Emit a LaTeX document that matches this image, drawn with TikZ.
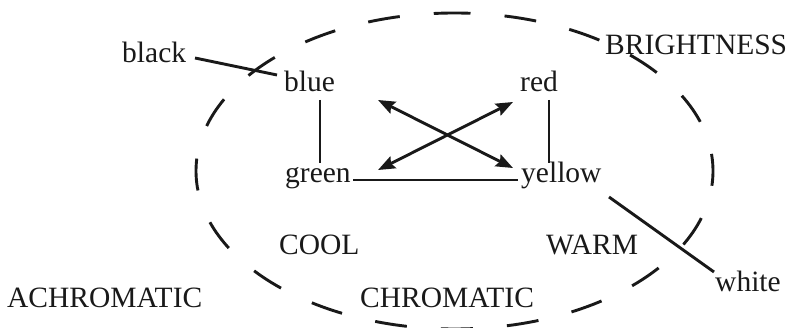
\documentclass[tikz,border=0pt]{standalone}
\usepackage{fontspec}
\setmainfont{Liberation Serif}
\usetikzlibrary{calc,arrows.meta}
\begin{document}
\begin{tikzpicture}[x=1pt,y=-1pt,
  lbl/.style={anchor=base west,inner sep=0pt,font=\fontsize{29.5}{34}\selectfont,text=black!90},
  conn/.style={line width=2.9pt,draw=black!90},
  dbl/.style={conn,{Stealth[length=17pt,width=13pt,inset=2.5pt]}-{Stealth[length=17pt,width=13pt,inset=2.5pt]}},
  ring/.style={line width=2.9pt,draw=black!90,dash pattern=on 32pt off 34.15pt,dash phase=16pt}]
\useasboundingbox (0,0) rectangle (790,328);
\node[lbl] (black) at (122,63) {black};
\node[lbl] (blue) at (284,92) {blue};
\node[lbl] (red) at (520,92) {red};
\node[lbl] (green) at (285,183) {green};
\node[lbl] (yellow) at (521,183) {yellow};
\node[lbl] (bright) at (605,55) {BRIGHTNESS};
\node[lbl] (cool) at (279,255) {COOL};
\node[lbl] (warm) at (546,255) {WARM};
\node[lbl] (achrom) at (7,308) {ACHROMATIC};
\node[lbl] (chrom) at (360,308) {CHROMATIC};
\node[lbl] (white) at (715,292) {white};
\coordinate (c) at (454.5,171);
\draw[ring] ($(c)+(0,-158)$) arc[start angle=270,end angle=630,x radius=258.5,y radius=158];
\draw[conn] ($(black.base west)+(73,-5)$) -- ($(blue.base west)+(-7,-17)$);
\draw[conn] ($(blue.base west)+(36,8)$) -- ($(green.base west)+(35,-20)$);
\draw[conn] ($(red.base west)+(29,8)$) -- ($(yellow.base west)+(28,-20)$);
\draw[conn] ($(green.base west)+(68,-3)$) -- ($(yellow.base west)+(-3,-3)$);
\draw[dbl] ($(blue.base west)+(94,8)$) -- ($(yellow.base west)+(-8,-15)$);
\draw[dbl] ($(red.base west)+(-7,10)$) -- ($(green.base west)+(93,-13)$);
\draw[conn] ($(yellow.base west)+(88,14)$) -- ($(white.base west)+(-1,-20)$);
\end{tikzpicture}
\end{document}
